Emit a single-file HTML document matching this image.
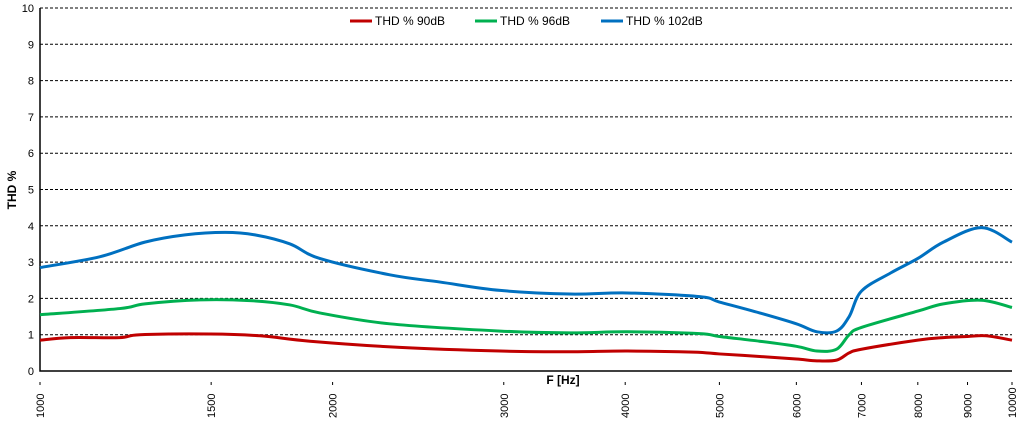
<!DOCTYPE html>
<html><head><meta charset="utf-8"><style>
html,body{margin:0;padding:0;background:#fff;width:1020px;height:425px;overflow:hidden}
svg text{font-family:"Liberation Sans",Arial,sans-serif}
</style></head><body>
<svg id="chart" width="1020" height="425" xmlns="http://www.w3.org/2000/svg"></svg>
<script>
const yTicks=[0,1,2,3,4,5,6,7,8,9,10];
const xTicks=[1000,1500,2000,3000,4000,5000,6000,7000,8000,9000,10000];
const freqRed=[1000,1074,1208,1267,1496,1684,1896,2345,2975,3500,4020,4700,5000,5500,6000,6300,6600,6800,7000,8000,8500,9000,9400,10000];
const thd90=[0.85,0.92,0.92,1.0,1.02,0.97,0.82,0.65,0.55,0.53,0.55,0.52,0.47,0.4,0.33,0.28,0.3,0.5,0.6,0.85,0.92,0.95,0.97,0.85];
const freqGreen=[1000,1208,1282,1461,1644,1808,1940,2290,2975,3510,4020,4770,5000,5500,6000,6300,6600,6800,7000,8000,8500,9300,10000];
const thd96=[1.55,1.72,1.85,1.96,1.94,1.82,1.6,1.3,1.1,1.05,1.08,1.03,0.95,0.82,0.68,0.55,0.6,1.0,1.2,1.65,1.85,1.95,1.75];
const freqBlue=[1000,1153,1282,1410,1550,1664,1808,1940,2290,2580,2975,3510,4020,4770,5000,5500,6000,6300,6600,6800,7000,7500,8000,8500,9300,10000];
const thd102=[2.85,3.15,3.55,3.75,3.82,3.75,3.5,3.1,2.65,2.45,2.22,2.12,2.15,2.05,1.9,1.6,1.3,1.08,1.1,1.5,2.2,2.7,3.1,3.55,3.95,3.55];
const seriesNames=["THD % 90dB","THD % 96dB","THD % 102dB"];
const NS="http://www.w3.org/2000/svg";
const svg=document.getElementById('chart');
const X0=40,X1=1012,Y0=371,Y1=8;
const xs=f=>X0+(Math.log10(f)-3)*(X1-X0);
const ys=v=>Y0-v/10*(Y0-Y1);
function mk(t,a,p){const e=document.createElementNS(NS,t);for(const k in a)e.setAttribute(k,a[k]);(p||svg).appendChild(e);return e;}
yTicks.forEach(v=>{
  if(v>0){const g=mk('line',{x1:X0,x2:X1,y1:ys(v),y2:ys(v),stroke:'#000','stroke-width':1,'stroke-dasharray':'3,2'});
  
  }
  const t=mk('text',{x:34,y:ys(v)+4,'text-anchor':'end','font-size':11,fill:'#000'});
  t.textContent=v;
  
  
});
const ax=mk('path',{d:`M${X0},${Y1}V${Y0}H${X1}`,stroke:'#000','stroke-width':1.5,fill:'none'});


xTicks.forEach(f=>{
  const x=xs(f);
  mk('line',{x1:x,x2:x,y1:382,y2:385,stroke:'#000','stroke-width':1});
  const t=mk('text',{transform:`translate(${x+4},${418}) rotate(-90)`,'font-size':11,fill:'#000'});
  t.textContent=f;
  
  
});
const yt=mk('text',{transform:'translate(16,190) rotate(-90)','text-anchor':'middle','font-size':12,'font-weight':'bold'});
yt.textContent='THD %';


const xt=mk('text',{x:563,y:384,'text-anchor':'middle','font-size':12,'font-weight':'bold'});
xt.textContent='F [Hz]';


function smooth(pts){let d=`M${pts[0][0]},${pts[0][1]}`;
 for(let i=0;i<pts.length-1;i++){const p0=pts[Math.max(0,i-1)],p1=pts[i],p2=pts[i+1],p3=pts[Math.min(pts.length-1,i+2)];
 d+=`C${p1[0]+(p2[0]-p0[0])/6},${p1[1]+(p2[1]-p0[1])/6} ${p2[0]-(p3[0]-p1[0])/6},${p2[1]-(p3[1]-p1[1])/6} ${p2[0]},${p2[1]}`;}
 return d;}
const series=[[freqRed,thd90,'#C00000'],[freqGreen,thd96,'#00B050'],[freqBlue,thd102,'#0070C0']];
series.forEach((s,i)=>{
  const pts=s[0].map((f,j)=>[xs(f),ys(s[1][j])]);
  const p=mk('path',{d:smooth(pts),stroke:s[2],'stroke-width':3,fill:'none'});
  
  
});
const lx=[350,475,601];
seriesNames.forEach((n,i)=>{
  const g=mk('g',{});
  
  
  mk('line',{x1:lx[i],x2:lx[i]+22,y1:21,y2:21,stroke:series[i][2],'stroke-width':3},g);
  const t=mk('text',{x:lx[i]+25,y:25,'font-size':12},g);t.textContent=n;
});
</script>
</body></html>
